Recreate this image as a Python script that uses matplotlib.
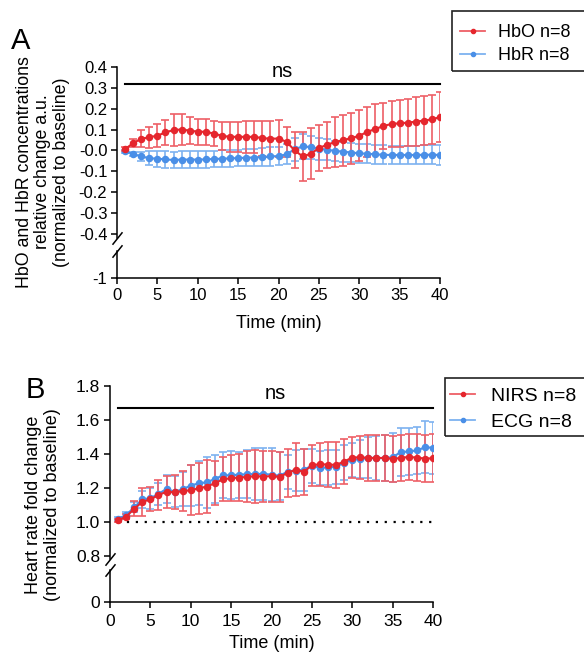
"""Panel A: HbO/HbR relative change; panel B: heart rate fold change (NIRS vs ECG)."""
import numpy as np
import matplotlib
matplotlib.use("Agg")
import matplotlib.pyplot as plt
from matplotlib.patches import Rectangle
from matplotlib.lines import Line2D

plt.rcParams["font.family"] = ["Liberation Sans", "DejaVu Sans"]

# ---------- data ----------
t = np.arange(1, 41)

hbo_mean = [0.006, 0.035, 0.056, 0.063, 0.071, 0.086, 0.098, 0.100, 0.095, 0.090,
            0.089, 0.081, 0.070, 0.065, 0.065, 0.065, 0.065, 0.059, 0.056, 0.057,
            0.041, 0.000, -0.029, -0.016, 0.011, 0.027, 0.040, 0.049, 0.059, 0.070,
            0.089, 0.103, 0.117, 0.127, 0.130, 0.133, 0.138, 0.143, 0.149, 0.160]
hbo_sem = [0.008, 0.019, 0.040, 0.050, 0.054, 0.060, 0.075, 0.075, 0.063, 0.062,
           0.062, 0.062, 0.068, 0.071, 0.073, 0.078, 0.078, 0.084, 0.087, 0.089,
           0.073, 0.086, 0.119, 0.122, 0.111, 0.111, 0.119, 0.122, 0.122, 0.122,
           0.119, 0.119, 0.110, 0.111, 0.114, 0.113, 0.116, 0.117, 0.117, 0.122]
hbr_mean = [-0.005, -0.017, -0.029, -0.037, -0.040, -0.043, -0.046, -0.044, -0.044, -0.044,
            -0.043, -0.041, -0.040, -0.038, -0.037, -0.035, -0.034, -0.032, -0.029, -0.027,
            -0.019, 0.006, 0.019, 0.016, 0.008, 0.003, -0.002, -0.006, -0.010, -0.014,
            -0.016, -0.019, -0.021, -0.022, -0.022, -0.022, -0.022, -0.021, -0.021, -0.022]
hbr_sem = [0.006, 0.010, 0.022, 0.035, 0.038, 0.040, 0.040, 0.040, 0.040, 0.040,
           0.040, 0.040, 0.040, 0.040, 0.040, 0.040, 0.042, 0.042, 0.044, 0.045,
           0.048, 0.055, 0.058, 0.055, 0.052, 0.050, 0.048, 0.048, 0.046, 0.046,
           0.045, 0.045, 0.045, 0.045, 0.045, 0.045, 0.045, 0.045, 0.045, 0.050]

nirs_mean = [1.012, 1.033, 1.080, 1.120, 1.135, 1.160, 1.180, 1.176, 1.184, 1.188,
             1.200, 1.210, 1.230, 1.253, 1.259, 1.263, 1.267, 1.271, 1.269, 1.271,
             1.267, 1.290, 1.310, 1.296, 1.335, 1.341, 1.339, 1.337, 1.357, 1.380,
             1.382, 1.378, 1.378, 1.378, 1.372, 1.378, 1.384, 1.380, 1.374, 1.376]
nirs_sem = [0.010, 0.015, 0.043, 0.080, 0.070, 0.090, 0.094, 0.100, 0.120, 0.147,
            0.150, 0.155, 0.128, 0.130, 0.135, 0.140, 0.150, 0.155, 0.152, 0.150,
            0.145, 0.143, 0.155, 0.137, 0.120, 0.127, 0.130, 0.135, 0.130, 0.122,
            0.125, 0.133, 0.135, 0.133, 0.133, 0.135, 0.133, 0.140, 0.140, 0.142]
ecg_mean = [1.020, 1.043, 1.088, 1.135, 1.141, 1.167, 1.196, 1.180, 1.194, 1.216,
            1.229, 1.235, 1.255, 1.276, 1.276, 1.280, 1.282, 1.284, 1.284, 1.280,
            1.273, 1.298, 1.304, 1.308, 1.333, 1.320, 1.322, 1.327, 1.351, 1.367,
            1.371, 1.378, 1.376, 1.378, 1.382, 1.412, 1.416, 1.422, 1.440, 1.438]
ecg_sem = [0.010, 0.015, 0.030, 0.050, 0.060, 0.065, 0.080, 0.092, 0.100, 0.118,
           0.130, 0.150, 0.140, 0.135, 0.140, 0.135, 0.140, 0.155, 0.150, 0.155,
           0.140, 0.100, 0.120, 0.125, 0.100, 0.100, 0.100, 0.100, 0.100, 0.100,
           0.110, 0.120, 0.130, 0.135, 0.145, 0.140, 0.140, 0.140, 0.152, 0.152]

RED, RED_E = "#e5262d", "#ee5f66"
BLUE, BLUE_E = "#4a8fe7", "#7db2f0"
W, H = 584, 653


def box(x0, y_top, x1, y_bot):
    # pixel box -> figure fraction rect
    return [x0 / W, 1 - y_bot / H, (x1 - x0) / W, (y_bot - y_top) / H]


def series(ax, m, s, c, ce):
    ax.errorbar(t, m, yerr=s, fmt="o-", color=c, ecolor=ce, ms=4.4, lw=1.5,
                elinewidth=1.2, capsize=2.6, capthick=1.2, zorder=3)


def style(ax, fs):
    for sp in ["top", "right"]:
        ax.spines[sp].set_visible(False)
    for sp in ax.spines.values():
        sp.set_linewidth(1.1)
    ax.tick_params(direction="out", length=4, width=1.1, labelsize=fs, pad=3)
    ax.patch.set_alpha(0)


def slash(ax, y):
    ax.plot([0], [y], transform=ax.transAxes, marker=[(-1, -1.25), (1, 1.25)],
            markersize=9, mec="k", mew=1.1, clip_on=False, zorder=5)


fig = plt.figure(figsize=(W / 100, H / 100), dpi=100)

# ---------- panel A ----------
a1 = fig.add_axes(box(117, 67, 440, 238))
a2 = fig.add_axes(box(117, 251, 440, 278))
series(a1, hbr_mean, hbr_sem, BLUE, BLUE_E)
series(a1, hbo_mean, hbo_sem, RED, RED_E)
a1.set_xlim(0, 40)
a1.set_ylim(-0.42, 0.4)
a1.set_yticks(np.round(np.arange(-0.4, 0.41, 0.1), 1))
a1.set_yticklabels([f"{v:.1f}" for v in np.arange(-0.4, 0.41, 0.1)])
style(a1, 12)
a1.spines["bottom"].set_visible(False)
a1.set_xticks([])
slash(a1, 0)
a1.plot([1, 40], [0.32, 0.32], color="k", lw=1.5, clip_on=False)
a1.text(20.5, 0.38, "ns", ha="center", va="center", fontsize=14.5)

a2.set_xlim(0, 40)
a2.set_ylim(-1, -0.88)
a2.set_yticks([-1])
a2.set_yticklabels(["-1"])
a2.set_xticks(range(0, 41, 5))
style(a2, 12)
slash(a2, 1)
a2.set_xlabel("Time (min)", fontsize=13, labelpad=9)

fig.text(43 / W, 1 - 172 / H,
         "HbO and HbR concentrations\nrelative change a.u.\n(normalized to baseline)",
         rotation=90, ha="center", va="center", multialignment="center",
         fontsize=12.8, linespacing=1.15)
fig.text(11 / W, 1 - 27 / H, "A", fontsize=21, va="top", ha="left")

# legend A
fig.patches.append(Rectangle((452 / W, 1 - 71 / H), 0.3, 60 / H, transform=fig.transFigure,
                             fill=False, ec="#222222", lw=1.2))
hA = [Line2D([], [], color=RED_E, marker="o", mfc=RED, mec=RED, ms=3, lw=1.3),
      Line2D([], [], color=BLUE_E, marker="o", mfc=BLUE, mec=BLUE, ms=3, lw=1.3)]
fig.legend(hA, ["HbO n=8", "HbR n=8"], loc="upper left", frameon=False,
           bbox_to_anchor=(460 / W, 1 - 24 / H), fontsize=13, handlelength=1.4,
           handletextpad=0.7, labelspacing=0.35, borderpad=0, borderaxespad=0)

# ---------- panel B ----------
b1 = fig.add_axes(box(110, 386, 433, 559))
b2 = fig.add_axes(box(110, 570, 433, 602))
b1.plot([1, 40], [1.0, 1.0], color="k", lw=1.6, ls=(0, (1, 3)), zorder=2)
series(b1, ecg_mean, ecg_sem, BLUE, BLUE_E)
series(b1, nirs_mean, nirs_sem, RED, RED_E)
b1.set_xlim(0, 40)
b1.set_ylim(0.785, 1.8)
b1.set_yticks([0.8, 1.0, 1.2, 1.4, 1.6, 1.8])
b1.set_yticklabels(["0.8", "1.0", "1.2", "1.4", "1.6", "1.8"])
style(b1, 12.5)
b1.spines["bottom"].set_visible(False)
b1.set_xticks([])
slash(b1, 0)
b1.plot([1, 40], [1.668, 1.668], color="k", lw=1.5, clip_on=False)
b1.text(20.5, 1.755, "ns", ha="center", va="center", fontsize=14.5)

b2.set_xlim(0, 40)
b2.set_ylim(0, 0.2)
b2.set_yticks([0])
b2.set_yticklabels(["0"])
b2.set_xticks(range(0, 41, 5))
style(b2, 12.5)
b2.tick_params(axis="x", pad=5)
slash(b2, 1)
b2.set_xlabel("Time (min)", fontsize=13, labelpad=4)

fig.text(43 / W, 1 - 505 / H, "Heart rate fold change\n(normalized to baseline)",
         rotation=90, ha="center", va="center", multialignment="center",
         fontsize=13, linespacing=1.2)
fig.text(26 / W, 1 - 376 / H, "B", fontsize=21, va="top", ha="left")

# legend B
fig.patches.append(Rectangle((445 / W, 1 - 436 / H), 0.3, 58 / H, transform=fig.transFigure,
                             fill=False, ec="#222222", lw=1.2))
hB = [Line2D([], [], color=RED_E, marker="o", mfc=RED, mec=RED, ms=3, lw=1.3),
      Line2D([], [], color=BLUE_E, marker="o", mfc=BLUE, mec=BLUE, ms=3, lw=1.3)]
fig.legend(hB, ["NIRS n=8", "ECG n=8"], loc="upper left", frameon=False,
           bbox_to_anchor=(450 / W, 1 - 387 / H), fontsize=14, handlelength=1.3,
           handletextpad=0.8, labelspacing=0.45, borderpad=0, borderaxespad=0)

fig.savefig("out.png", dpi=100)
